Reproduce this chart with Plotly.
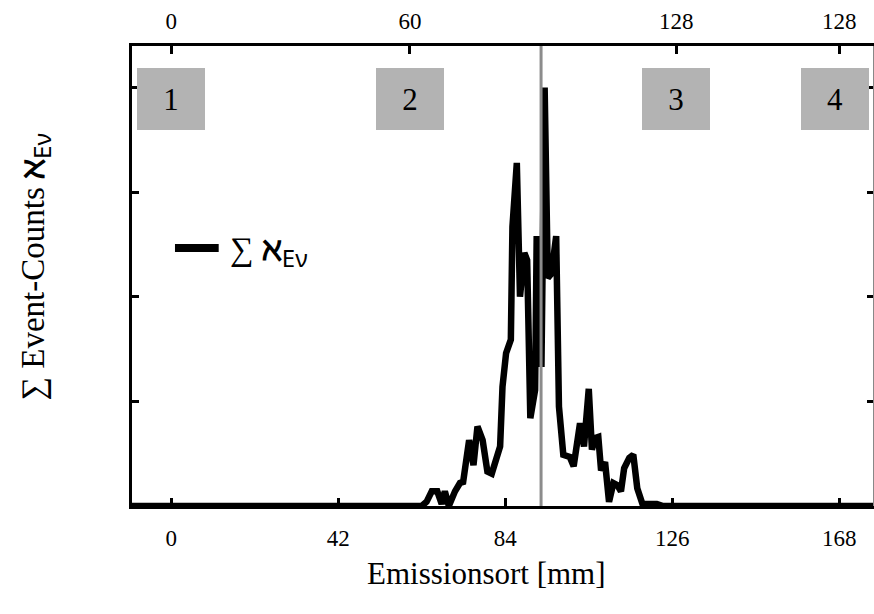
import plotly.graph_objects as go

# Summed event counts along the emission position (mm)
position_mm = [-10, 62.97, 64.2, 65.5, 66.9, 68.0, 68.8, 69.8, 71.35, 72.6, 73.4, 74.9,
               76.0, 77.0, 78.3, 79.5, 80.6, 81.8, 82.7, 83.3, 84.2, 85.4, 85.8, 86.9,
               87.7, 88.8, 89.5, 90.3, 91.5, 91.9, 93.1, 93.9, 94.7, 95.6, 96.1, 96.8,
               97.5, 98.6, 100.2, 101.2, 102.8, 103.8, 105.0, 105.8, 106.6, 107.4, 108.1,
               109.1, 110.1, 111.2, 112.2, 113.1, 113.9, 115.2, 116.2, 117.2, 118.5,
               122.1, 123.7, 177]
event_counts = [0, 0, 0.04, 0.14, 0.14, 0.02, 0.14, 0, 0.14, 0.22, 0.23, 0.63,
                0.39, 0.76, 0.63, 0.33, 0.31, 0.44, 0.57, 1.14, 1.46, 1.59, 2.67, 3.28,
                2.0, 2.42, 2.35, 0.84, 1.11, 2.58, 1.33, 4.0, 2.18, 2.22, 2.38, 2.58,
                0.95, 0.49, 0.47, 0.38, 0.79, 0.57, 1.12, 0.54, 0.65, 0.66, 0.34,
                0.42, 0.04, 0.22, 0.2, 0.14, 0.36, 0.46, 0.49, 0.17, 0.02,
                0.02, 0, 0]

# Axis ticks
bottom_ticks = [0, 42, 84, 126, 168]
top_tick_pos = [0, 60, 127, 168]
top_tick_text = ["0", "60", "128", "128"]
y_ticks = [1, 2, 3, 4]

# Detector segments (label, centre position in mm)
segment_labels = ["1", "2", "3", "4"]
segment_pos = [0, 60, 127, 167]

# Reference position marker
marker_pos = 93.0

X_RANGE = [-9.9, 176.5]
Y_RANGE = [0, 4.397]
SERIF = "Liberation Serif"
sym = ("<b><span style='font-family:DejaVu Serif'>ℵ</span></b>"
       "<sub><span style='font-family:Noto Sans;font-size:24px'>Eν</span></sub>")

fig = go.Figure()
fig.add_trace(go.Scatter(x=position_mm, y=event_counts, mode="lines",
                         line=dict(color="black", width=6.5), showlegend=False,
                         hoverinfo="skip"))
# helper trace so the top and right axes are drawn
fig.add_trace(go.Scatter(x=[None], y=[None], xaxis="x2", yaxis="y2", showlegend=False))

fig.add_shape(type="line", xref="x", yref="paper", x0=marker_pos, x1=marker_pos,
              y0=0, y1=1, line=dict(color="#8c8c8c", width=3), layer="above")

for lab, pos in zip(segment_labels, segment_pos):
    fig.add_annotation(x=pos, xref="x", y=0.885, yref="paper", text=lab,
                       showarrow=False, width=68, height=62, borderpad=0, borderwidth=0,
                       bgcolor="#b3b3b3", font=dict(family=SERIF, size=31, color="black"),
                       xanchor="center", yanchor="middle")

# legend entry
fig.add_shape(type="line", xref="paper", yref="paper", x0=0.058, x1=0.117,
              y0=0.561, y1=0.561, line=dict(color="black", width=8))
fig.add_annotation(x=0.129, xref="paper", y=0.553, yref="paper", text="∑ " + sym,
                   showarrow=False, xanchor="left", yanchor="middle",
                   font=dict(family=SERIF, size=33, color="black"))

# axis titles
fig.add_annotation(x=0.478, xref="paper", y=-0.146, yref="paper",
                   text="Emissionsort [mm]", showarrow=False,
                   xanchor="center", yanchor="middle",
                   font=dict(family=SERIF, size=31, color="black"))
fig.add_annotation(x=-0.13, xref="paper", y=0.52, yref="paper",
                   text="∑ Event-Counts " + sym, showarrow=False, textangle=-90,
                   xanchor="center", yanchor="middle",
                   font=dict(family=SERIF, size=33, color="black"))

axis_common = dict(showgrid=False, zeroline=False, showline=True, linecolor="black",
                   linewidth=3, ticks="inside", tickcolor="black", tickwidth=2.5)

fig.update_layout(
    width=874, height=614,
    margin=dict(l=132, r=1, t=46, b=108),
    plot_bgcolor="white", paper_bgcolor="white",
    xaxis=dict(range=X_RANGE, tickvals=bottom_ticks, ticklen=8,
               tickfont=dict(family=SERIF, size=23, color="black"),
               ticklabelstandoff=9, **axis_common),
    xaxis2=dict(range=X_RANGE, overlaying="x", side="top", tickvals=top_tick_pos,
                ticktext=top_tick_text, ticklen=8,
                tickfont=dict(family=SERIF, size=23, color="black"),
                ticklabelstandoff=5, **axis_common),
    yaxis=dict(range=Y_RANGE, tickvals=y_ticks, showticklabels=False, ticklen=7,
               **axis_common),
    yaxis2=dict(range=Y_RANGE, overlaying="y", side="right", tickvals=y_ticks,
                showticklabels=False, showgrid=False, zeroline=False, showline=True,
                linecolor="#888888", linewidth=1, ticks="inside", tickcolor="black",
                tickwidth=2.5, ticklen=6),
)

fig.write_html("out.html")
